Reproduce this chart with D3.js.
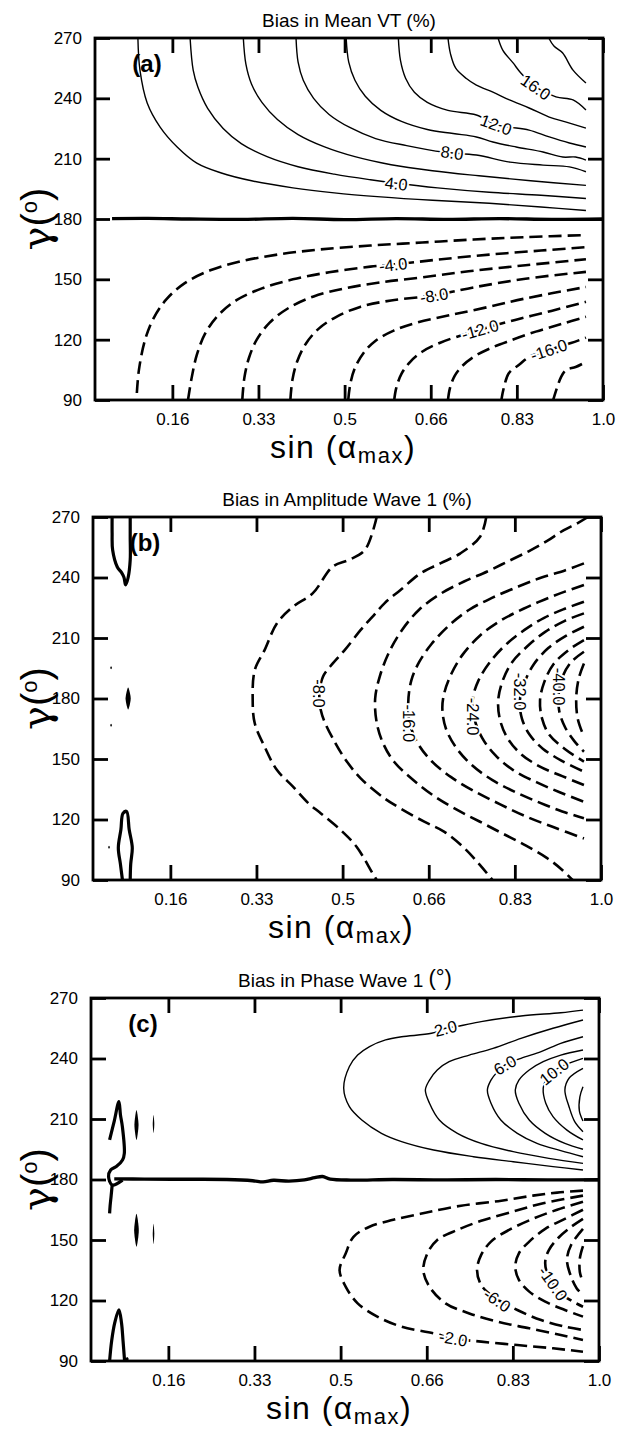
<!DOCTYPE html>
<html><head><meta charset="utf-8">
<script src="https://cdn.jsdelivr.net/npm/d3@7/dist/d3.min.js"></script>
<style>
body{margin:0;background:#fff;}
svg{display:block;}
text{font-family:"Liberation Sans",Arial,Helvetica,sans-serif;fill:#000;}
</style></head><body>
<svg id="chart" width="626" height="1429"></svg>
<script>
// ---------- shared axis data ----------
const xDomain = [0.017, 1.0];
const yDomain = [90, 270];
const xTickValues = [0.1667, 0.3333, 0.5, 0.6667, 0.8333, 1.0];
const xTickLabels = ["0.16", "0.33", "0.5", "0.66", "0.83", "1.0"];
const yTickValues = [90, 120, 150, 180, 210, 240, 270];

// ---------- panel (a): Bias in Mean VT (%) ; points are [sin(alpha_max), gamma] ----------
const meanVT_pos = [
 {level:2, pts:[[0.100,270],[0.104,254],[0.118,237.7],[0.143,225.7],[0.176,215.8],[0.214,207.8],[0.26,203],[0.32,199],[0.40,195.5],[0.48,193],[0.57,191],[0.67,189.3],[0.78,187.8],[0.88,186],[0.967,184.2]]},
 {level:4, pts:[[0.201,270],[0.207,254],[0.216,245.6],[0.235,235],[0.265,225],[0.30,217.5],[0.35,211],[0.41,206],[0.48,202.3],[0.55,199.5],[0.60,197.8],[0.68,195.5],[0.78,193.3],[0.88,191.8],[0.967,190.2]]},
 {level:6, pts:[[0.304,270],[0.309,257],[0.32,247],[0.34,238],[0.37,229.5],[0.41,222],[0.46,216],[0.52,211],[0.59,207],[0.67,204],[0.76,201.5],[0.86,199],[0.967,196.7]]},
 {level:8, pts:[[0.406,270],[0.41,258],[0.42,249],[0.44,240],[0.47,232],[0.51,225.5],[0.56,220],[0.62,216.5],[0.69,213.3],[0.755,211.8],[0.82,208.3],[0.884,206.8],[0.935,205.9],[0.967,203.5]]},
 {level:10, pts:[[0.503,270],[0.508,258],[0.52,249],[0.54,241],[0.57,234],[0.61,228.5],[0.66,224.5],[0.71,222.5],[0.755,220.8],[0.787,218.3],[0.832,215.8],[0.884,213.3],[0.922,210.8],[0.947,210.8],[0.967,209.3]]},
 {level:12, pts:[[0.604,270],[0.608,259],[0.618,250],[0.635,243],[0.66,238],[0.70,234],[0.755,231.7],[0.793,226.9],[0.819,225.7],[0.857,224.2],[0.896,220.8],[0.935,217.8],[0.967,215.8]]},
 {level:14, pts:[[0.700,270],[0.705,262],[0.715,255],[0.735,250],[0.755,246.6],[0.787,243.1],[0.819,239.2],[0.857,235.2],[0.896,230.7],[0.929,228.2],[0.967,225.2]]},
 {level:16, pts:[[0.797,270],[0.806,264],[0.826,257.6],[0.841,252.6],[0.870,245.6],[0.909,240.7],[0.942,239.2],[0.967,234.2]]},
 {level:18, pts:[[0.895,270],[0.905,266],[0.922,262.5],[0.942,254],[0.967,247.6]]}
];
const meanVT_neg = [
 {level:-2, pts:[[0.098,93.5],[0.102,105],[0.114,120],[0.13,130.5],[0.155,140],[0.19,148],[0.24,154.5],[0.30,159],[0.37,162.3],[0.45,164.8],[0.55,166.8],[0.65,168.3],[0.75,169.8],[0.85,171],[0.967,172]]},
 {level:-4, pts:[[0.197,90],[0.204,101],[0.214,112.4],[0.23,123],[0.255,132],[0.29,139.5],[0.34,145.5],[0.40,150],[0.47,153.5],[0.55,156.3],[0.60,157.5],[0.68,159.8],[0.78,162.3],[0.88,164.3],[0.967,166]]},
 {level:-6, pts:[[0.302,90],[0.306,101],[0.315,111],[0.33,120],[0.355,128.5],[0.39,135.5],[0.44,141.5],[0.50,145.5],[0.57,148.5],[0.65,151],[0.74,154],[0.85,157],[0.967,160]]},
 {level:-8, pts:[[0.395,90],[0.399,100],[0.408,109],[0.425,118],[0.45,125.5],[0.485,131.5],[0.53,136.3],[0.59,139.5],[0.673,142],[0.75,146],[0.85,150.3],[0.967,153.7]]},
 {level:-10, pts:[[0.507,90],[0.511,98],[0.52,106],[0.537,113.5],[0.56,119.5],[0.595,124.5],[0.64,128.5],[0.70,132],[0.77,135.8],[0.85,140.5],[0.967,146.2]]},
 {level:-12, pts:[[0.596,90],[0.60,96],[0.61,103],[0.627,109],[0.65,114],[0.685,118.5],[0.73,122.5],[0.762,125],[0.83,129.8],[0.90,134.3],[0.967,138.8]]},
 {level:-14, pts:[[0.70,90],[0.704,96],[0.713,102],[0.728,107],[0.75,111.5],[0.78,115.5],[0.82,119.5],[0.87,124],[0.92,127.8],[0.967,131.4]]},
 {level:-16, pts:[[0.803,89.5],[0.808,96],[0.818,103.4],[0.837,107.4],[0.857,111.4],[0.895,114.9],[0.938,118.3],[0.967,121]]},
 {level:-18, pts:[[0.903,89.5],[0.919,101.5],[0.929,105],[0.947,106.4],[0.963,108.4]]}
];
const meanVT_zero = [[0.05,180.2],[0.12,180.3],[0.2,180],[0.3,179.8],[0.4,180.3],[0.5,179.7],[0.6,180.2],[0.7,179.8],[0.8,180.2],[0.9,179.8],[1.0,180]];
const meanVT_labels = [[4,0.60,197.6],[8,0.708,213],[12,0.793,226.9],[16,0.870,245.6],[-4,0.594,157.3],[-8,0.673,142],[-12,0.762,125],[-16,0.895,114.9]];

// ---------- panel (b): Bias in Amplitude Wave 1 (%) ----------
const ampW1_neg = [
 {level:-4, pts:[[0.566,270],[0.543,253.6],[0.512,248.7],[0.481,245.4],[0.442,232.1],[0.404,225.5],[0.373,217.3],[0.349,204],[0.330,194.1],[0.326,179.2],[0.330,167.7],[0.349,156.1],[0.373,144.5],[0.404,136.3],[0.434,128],[0.458,123],[0.496,114.8],[0.527,106.5],[0.558,93.3],[0.566,90]]},
 {level:-8, pts:[[0.778,270],[0.766,260.2],[0.728,252],[0.689,247],[0.651,242.1],[0.612,233.8],[0.581,227.2],[0.558,220.6],[0.535,214],[0.504,204],[0.481,197.4],[0.462,190.8],[0.455,182],[0.458,174],[0.465,168.5],[0.481,160.2],[0.504,150.3],[0.535,140.4],[0.581,130.5],[0.612,125.5],[0.658,118.9],[0.697,113.9],[0.736,105.7],[0.766,97.4],[0.790,90]]},
 {level:-12, pts:[[0.975,270],[0.955,267],[0.925,263],[0.895,258],[0.86,253],[0.82,248],[0.78,243],[0.735,238],[0.69,232],[0.648,224],[0.615,214],[0.59,203],[0.572,191],[0.563,180],[0.566,168],[0.578,158],[0.60,148.5],[0.635,140],[0.675,132],[0.72,125],[0.765,119],[0.81,113],[0.855,107],[0.895,101],[0.925,95],[0.945,90]]},
 {level:-16, pts:[[0.967,247],[0.93,243.5],[0.885,240],[0.84,235.5],[0.79,230],[0.745,224],[0.705,216],[0.672,207],[0.648,198],[0.633,189],[0.627,178],[0.63,167.7],[0.645,158],[0.672,149],[0.71,141],[0.755,134],[0.805,127.5],[0.855,121.5],[0.91,116],[0.967,110.6]]},
 {level:-20, pts:[[0.967,236.3],[0.93,233],[0.89,229],[0.85,224.5],[0.805,218.5],[0.765,211],[0.733,202],[0.71,192],[0.697,183],[0.693,175],[0.70,165],[0.72,155.5],[0.75,147],[0.79,139.5],[0.835,133.5],[0.88,128.5],[0.925,124],[0.967,120.6]]},
 {level:-24, pts:[[0.967,228],[0.93,224.5],[0.89,220],[0.852,214],[0.815,206.5],[0.785,198],[0.763,189],[0.752,180],[0.755,170],[0.77,160.5],[0.795,152],[0.83,144.5],[0.875,138.5],[0.92,133.5],[0.967,128.8]]},
 {level:-28, pts:[[0.967,222.2],[0.93,218.5],[0.892,213],[0.858,206],[0.828,198],[0.81,189],[0.801,179],[0.805,169],[0.82,160],[0.845,152.5],[0.88,146.5],[0.925,141.5],[0.967,137.1]]},
 {level:-32, pts:[[0.967,215.6],[0.932,211],[0.898,205],[0.87,197],[0.852,188],[0.843,179],[0.847,170],[0.862,162],[0.888,155],[0.925,149],[0.967,143.7]]},
 {level:-36, pts:[[0.967,209],[0.937,204],[0.908,197],[0.89,188],[0.882,179],[0.886,170],[0.90,162],[0.93,155],[0.967,148.7]]},
 {level:-40, pts:[[0.967,203.2],[0.942,198],[0.926,191],[0.918,182],[0.919,174],[0.93,166],[0.948,159],[0.967,153.6]]},
 {level:-44, pts:[[0.967,197.4],[0.957,190],[0.952,180],[0.955,170],[0.967,161]]}
];
const ampW1_labels = [[-8,0.455,182.5],[-16,0.628,167.7],[-24,0.752,171],[-32,0.844,183.4],[-40,0.918,185.9]];
const ampW1_loops = [
 [[0.054,270],[0.054,262],[0.055,253.6],[0.064,245.2],[0.072,242.5],[0.077,240],[0.080,236.3],[0.085,240],[0.089,248.7],[0.089,260],[0.089,270]],
 [[0.074,90],[0.07,98],[0.066,106],[0.071,115],[0.075,123],[0.082,124],[0.087,115],[0.093,106],[0.09,98],[0.089,90]]
];
// blobs: [sin centre, sin half-width, gamma top, gamma bottom]
const ampW1_blobs = [[0.085,0.005,185.5,174.5],[0.052,0.0016,196,194.5],[0.052,0.0016,167.5,166],[0.048,0.0016,107,105.5]];

// ---------- panel (c): Bias in Phase Wave 1 (deg) ----------
const phaseW1_pos = [
 {level:2, pts:[[0.969,264],[0.926,262.7],[0.849,261.1],[0.772,258.3],[0.73,256.1],[0.703,255],[0.676,252.5],[0.618,250.8],[0.587,249.2],[0.556,245.9],[0.533,241.7],[0.517,236],[0.506,225.2],[0.517,216.1],[0.541,209.5],[0.579,202.9],[0.618,198.8],[0.68,194.6],[0.757,191.3],[0.834,188.8],[0.911,186.4],[0.969,184.7]]},
 {level:4, pts:[[0.969,259.1],[0.911,255],[0.849,250],[0.795,245],[0.749,241.7],[0.710,238.4],[0.687,234.3],[0.672,229.3],[0.664,224.4],[0.672,217.8],[0.691,209.5],[0.726,202.9],[0.772,197.9],[0.834,193.8],[0.903,190.5],[0.969,188]]},
 {level:6, pts:[[0.969,250.8],[0.926,247.5],[0.888,243.4],[0.849,240.1],[0.818,236.8],[0.802,233],[0.791,229.3],[0.784,224.4],[0.791,217.8],[0.81,209.5],[0.842,202.9],[0.88,197.9],[0.926,194.3],[0.969,191.3]]},
 {level:8, pts:[[0.969,244.2],[0.926,241.7],[0.892,238.4],[0.865,234.3],[0.845,229.3],[0.838,224.4],[0.845,217.8],[0.865,209.5],[0.896,202.9],[0.934,197.9],[0.969,195]]},
 {level:10, pts:[[0.969,240.1],[0.934,236.8],[0.911,233.5],[0.897,229.3],[0.892,225.2],[0.897,217.8],[0.911,211.2],[0.938,204.5],[0.969,199.6]]},
 {level:12, pts:[[0.969,235.1],[0.942,230.2],[0.934,224.4],[0.942,216.1],[0.953,208.7],[0.969,203.7]]},
 {level:14, pts:[[0.969,226],[0.963,221],[0.962,214],[0.969,209]]}
];
const phaseW1_neg = [
 {level:-2, pts:[[0.969,174.5],[0.919,173.5],[0.872,172],[0.811,169.5],[0.733,167],[0.664,163.5],[0.602,160],[0.556,156.6],[0.525,151.6],[0.510,143.4],[0.498,135.1],[0.51,126.8],[0.533,118.6],[0.571,112],[0.618,107],[0.68,103.7],[0.718,101.2],[0.772,99.6],[0.842,97.9],[0.911,96.3],[0.969,94.6]]},
 {level:-4, pts:[[0.969,172],[0.888,168],[0.826,163.5],[0.772,159.5],[0.726,155],[0.687,150],[0.668,143.4],[0.66,135.1],[0.672,126.8],[0.703,118.6],[0.749,113.6],[0.803,109.5],[0.865,106.2],[0.926,102.9],[0.969,100.4]]},
 {level:-6, pts:[[0.969,169],[0.919,165],[0.872,160.5],[0.826,155],[0.791,149.2],[0.772,142.6],[0.764,135.1],[0.772,127.7],[0.795,121.9],[0.842,115.3],[0.888,110.3],[0.934,107],[0.969,105.4]]},
 {level:-8, pts:[[0.969,165],[0.934,160.5],[0.896,155.5],[0.865,149.2],[0.845,143.4],[0.838,136.8],[0.845,130.2],[0.865,124.4],[0.896,119.4],[0.934,115.3],[0.969,112]]},
 {level:-10, pts:[[0.969,160.5],[0.946,156.5],[0.923,151.5],[0.903,145],[0.896,139.3],[0.90,133],[0.911,128.5],[0.926,123.5],[0.95,119.4],[0.969,116.9]]},
 {level:-12, pts:[[0.969,155.5],[0.946,147.5],[0.938,140.1],[0.946,131.8],[0.957,126],[0.969,122.7]]},
 {level:-14, pts:[[0.969,147],[0.963,141],[0.963,134],[0.969,129]]}
];
const phaseW1_zero = [[0.062,180.3],[0.12,180.2],[0.2,180.1],[0.28,180],[0.33,179.4],[0.35,178.8],[0.37,179.6],[0.40,179.2],[0.43,179.8],[0.45,180.9],[0.465,181.5],[0.48,180.2],[0.52,179.7],[0.6,180],[0.7,179.8],[0.8,180],[0.9,179.8],[1.0,179.9]];
const phaseW1_labels = [[2,0.703,255],[6,0.818,236.8],[10,0.913,233.5],[-2,0.718,101.2],[-6,0.803,120.2],[-10,0.911,128.5]];
const phaseW1_loops = [
 [[0.053,199.6],[0.062,209],[0.071,218.6],[0.074,212],[0.0777,206.2],[0.0815,193],[0.078,189.7],[0.066,186.4],[0.055,184.7],[0.051,181.4],[0.058,177.3],[0.078,179.7]],
 [[0.058,177.3],[0.056,172],[0.054,167],[0.053,163.2]],
 [[0.053,90],[0.057,100],[0.063,109],[0.071,115.4],[0.076,109],[0.079,100],[0.082,90]]
];
const phaseW1_blobs = [[0.105,0.004,214.5,199.6],[0.138,0.0015,212,203],[0.105,0.0045,163,146.7],[0.138,0.0015,158,148],[0.087,0.003,92,90]];

// ---------- drawing ----------
const svg = d3.select("#chart");
const FONT = '"Liberation Sans",Arial,Helvetica,sans-serif';

const panels = [
 {key:"a", title:"Bias in Mean VT (%)", unit:null, frame:{l:95,r:603,t:38,b:400},
  pos:meanVT_pos, neg:meanVT_neg, zero:meanVT_zero, labels:meanVT_labels, loops:[], blobs:[]},
 {key:"b", title:"Bias in Amplitude Wave 1 (%)", unit:null, frame:{l:93,r:601,t:517,b:880},
  pos:[], neg:ampW1_neg, zero:null, labels:ampW1_labels, loops:ampW1_loops, blobs:ampW1_blobs},
 {key:"c", title:"Bias in Phase Wave 1 ", unit:"(°)", frame:{l:91,r:599,t:998,b:1361},
  pos:phaseW1_pos, neg:phaseW1_neg, zero:phaseW1_zero, labels:phaseW1_labels, loops:phaseW1_loops, blobs:phaseW1_blobs}
];

function fmtLevel(v){ return (v < 0 ? "-" : "") + Math.abs(v).toFixed(1); }

panels.forEach(p => {
  const f = p.frame;
  const x = d3.scaleLinear().domain(xDomain).range([f.l, f.r]);
  const y = d3.scaleLinear().domain(yDomain).range([f.b, f.t]);
  const g = svg.append("g");
  const clipId = "clip-" + p.key;
  svg.append("clipPath").attr("id", clipId).append("rect")
     .attr("x", f.l).attr("y", f.t).attr("width", f.r - f.l).attr("height", f.b - f.t);
  const plot = g.append("g").attr("clip-path", `url(#${clipId})`);
  const line = d3.line().x(d => x(d[0])).y(d => y(d[1])).curve(d3.curveCatmullRom.alpha(0.5));

  plot.selectAll(".pos").data(p.pos).join("path")
    .attr("d", d => line(d.pts)).attr("fill", "none").attr("stroke", "#000")
    .attr("stroke-width", 1.4).attr("stroke-linejoin", "round");
  plot.selectAll(".neg").data(p.neg).join("path")
    .attr("d", d => line(d.pts)).attr("fill", "none").attr("stroke", "#000")
    .attr("stroke-width", 2.6).attr("stroke-dasharray", "13,6");
  if (p.zero) {
    plot.append("path").attr("d", line(p.zero)).attr("fill", "none")
      .attr("stroke", "#000").attr("stroke-width", 3.4);
  }
  plot.selectAll(".loop").data(p.loops).join("path")
    .attr("d", d => line(d)).attr("fill", "none").attr("stroke", "#000")
    .attr("stroke-width", 3.2).attr("stroke-linejoin", "round");
  const blobLine = d3.line().x(d => x(d[0])).y(d => y(d[1])).curve(d3.curveCardinalClosed.tension(0.2));
  plot.selectAll(".blob").data(p.blobs).join("path")
    .attr("d", d => {
      const mid = (d[2] + d[3]) / 2;
      return blobLine([[d[0], d[2]], [d[0] + d[1], mid], [d[0], d[3]], [d[0] - d[1], mid]]);
    })
    .attr("fill", "#000");

  // contour labels, angle taken from the local direction of the labelled line
  const allLines = p.pos.concat(p.neg);
  p.labels.forEach(lb => {
    const ln = allLines.find(l => l.level === lb[0]);
    const px = x(lb[1]), py = y(lb[2]);
    let ang = 0;
    if (ln) {
      let best = 0, bd = Infinity;
      ln.pts.forEach((q, i) => {
        const dd = (x(q[0]) - px) ** 2 + (y(q[1]) - py) ** 2;
        if (dd < bd) { bd = dd; best = i; }
      });
      const i0 = Math.max(0, best - 1), i1 = Math.min(ln.pts.length - 1, best + 1);
      const dx = x(ln.pts[i1][0]) - x(ln.pts[i0][0]);
      const dy = y(ln.pts[i1][1]) - y(ln.pts[i0][1]);
      ang = Math.atan2(dy, dx) * 180 / Math.PI;
      if (ang > 90) ang -= 180;
      if (ang <= -90) ang += 180;
      if (Math.abs(ang) > 70) ang = 90;
    }
    plot.append("text")
      .attr("transform", `translate(${px},${py}) rotate(${ang})`)
      .attr("text-anchor", "middle").attr("dominant-baseline", "central")
      .attr("font-size", 16.5)
      .attr("stroke", "#fff").attr("stroke-width", 4).attr("paint-order", "stroke")
      .text(fmtLevel(lb[0]));
  });

  // axes (inward ticks)
  const styleAxis = sel => {
    sel.select(".domain").remove();
    sel.selectAll(".tick line").attr("stroke", "#000").attr("stroke-width", 2.8);
    sel.selectAll(".tick text").attr("font-size", 17).attr("font-family", FONT).attr("fill", "#000");
  };
  g.append("g").attr("transform", `translate(0,${f.b})`)
    .call(d3.axisBottom(x).tickValues(xTickValues).tickFormat((d, i) => xTickLabels[i]).tickSize(-15).tickPadding(13))
    .call(styleAxis);
  g.append("g").attr("transform", `translate(0,${f.t})`)
    .call(d3.axisTop(x).tickValues(xTickValues).tickFormat(() => "").tickSize(-15))
    .call(styleAxis);
  g.append("g").attr("transform", `translate(${f.l},0)`)
    .call(d3.axisLeft(y).tickValues(yTickValues).tickFormat(d3.format("d")).tickSize(-15).tickPadding(13))
    .call(styleAxis);
  g.append("g").attr("transform", `translate(${f.r},0)`)
    .call(d3.axisRight(y).tickValues(yTickValues).tickFormat(() => "").tickSize(-15))
    .call(styleAxis);

  // frame
  g.append("rect").attr("x", f.l).attr("y", f.t).attr("width", f.r - f.l).attr("height", f.b - f.t)
    .attr("fill", "none").attr("stroke", "#000").attr("stroke-width", 2.8);

  // title
  const t = g.append("text").attr("x", (f.l + f.r) / 2).attr("y", f.t - 11)
    .attr("text-anchor", "middle").attr("font-size", 19).text(p.title);
  if (p.unit) t.append("tspan").attr("font-size", 22).attr("dy", -2).text(p.unit);

  // panel letter
  g.append("text").attr("x", f.l + 52).attr("y", f.t + 25)
    .attr("text-anchor", "middle").attr("dominant-baseline", "central")
    .attr("font-size", 24).attr("font-weight", "bold").text(`(${p.key})`);

  // x label
  const xl = g.append("text").attr("x", (f.l + f.r) / 2 - 6).attr("y", f.b + 58)
    .attr("text-anchor", "middle").attr("font-size", 32).attr("letter-spacing", 1.5);
  xl.append("tspan").text("sin (α");
  xl.append("tspan").attr("font-size", 22).attr("dy", 5).text("max");
  xl.append("tspan").attr("dy", -5).text(")");

  // y label
  const yl = g.append("text")
    .attr("transform", `translate(${50},${(f.t + f.b) / 2}) rotate(-90)`)
    .attr("text-anchor", "middle").attr("font-size", 40);
  yl.append("tspan").attr("font-family", '"DejaVu Serif",serif').text("γ");
  yl.append("tspan").text("(");
  yl.append("tspan").attr("font-size", 22).attr("dy", -13).text("o");
  yl.append("tspan").attr("dy", 13).text(")");
});
</script></body></html>
